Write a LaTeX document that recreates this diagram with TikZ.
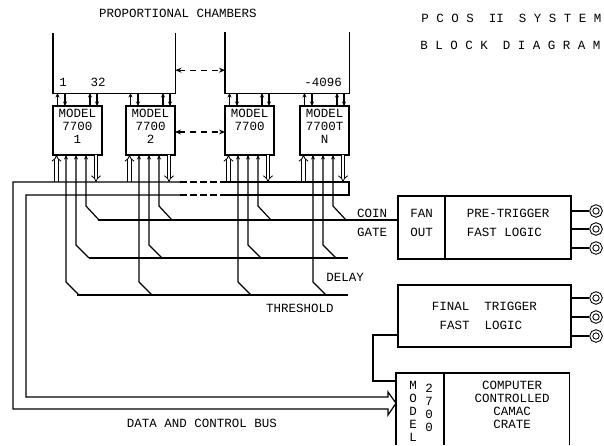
\documentclass[tikz,border=0pt]{standalone}
\usepackage{fontspec}
\setmainfont{Liberation Mono}
\usetikzlibrary{arrows.meta,calc}
\tikzset{
  wire/.style={line width=1.2pt},
  sig/.style={wire,-{Stealth[length=4.5pt,width=4pt]}},
  sigboth/.style={wire,dash pattern=on 6pt off 5pt,{Stealth[length=6pt,width=5pt]}-{Stealth[length=6pt,width=5pt]}},
  hollow/.style={line width=.8pt,double,double distance=2.6pt,-{Implies}},
  modbox/.style={draw,line width=1.2pt,outer sep=0pt,inner sep=0pt,anchor=north west,minimum width=49pt,minimum height=49pt,align=center},
  blockbox/.style={draw,line width=1.2pt,outer sep=0pt,inner sep=0pt,align=center},
  jack/.style={circle,draw,line width=1pt,double,double distance=1.8pt,inner sep=0pt,minimum size=9.5pt,outer sep=2pt},
  lab/.style={inner sep=0pt}
}
\begin{document}
\begin{tikzpicture}[x=1pt,y=-1pt,font=\fontsize{12.5}{13}\selectfont]
  \useasboundingbox (0,0) rectangle (604,445);
  % headings
  \node[lab] (chamtitle) at (178,13) {PROPORTIONAL CHAMBERS};
  \node[lab,anchor=west] (title1) at (421.2,18) {P~C~O~S~~II~~S~Y~S~T~E~M};
  \node[lab,anchor=west] (title2) at (420.2,45) {B~L~O~C~K~~D~I~A~G~R~A~M};
  % chambers, open at the top
  \node[lab,anchor=north west,minimum width=122pt,minimum height=60pt] (cham1) at (53,33) {};
  \node[lab,anchor=north west,minimum width=124pt,minimum height=61pt] (cham2) at (225,32) {};
  \draw[wire] (cham1.north west) |- (cham1.south east) -- (cham1.north east);
  \draw[wire] (cham2.north west) |- (cham2.south east) -- (cham2.north east);
  \node[lab] (ch1) at (63,82) {1};
  \node[lab] (ch32) at (98,82) {32};
  \node[lab] (ch4096) at (323,82) {-4096};
  % model 7700 units
  \foreach \n/\x/\lab in {1/53/{MODEL\\7700\\1\\[-5pt]~}, 2/126/{MODEL\\7700\\2\\[-5pt]~},
      3/225/{MODEL\\7700\\~\\[-5pt]~}, 4/300/{MODEL\\7700T\\N\\[-5pt]~}}
    \node[modbox] (mod\n) at (\x,106) {\lab};
  \draw[sigboth] ($(cham1.east)+(0,7)$) -- ($(cham2.west)+(0,7.5)$);
  \draw[sigboth] ($(mod2.east)+(0,1.5)$) -- ($(mod3.west)+(0,1.5)$);
  \foreach \n in {1,...,4}{
    % chamber side
    \foreach \x in {4.5,37}
      \draw[sig] ($(mod\n.north west)+(\x,0)$) -- ($(mod\n.north west)+(\x,-13)$);
    \foreach \x in {12,44}
      \draw[sig] ($(mod\n.north west)+(\x,-13)$) -- ($(mod\n.north west)+(\x,0)$);
    % bus side
    \draw[hollow] ($(mod\n.south west)+(3.5,27)$) -- ($(mod\n.south west)+(3.5,0)$);
    \draw[hollow] ($(mod\n.south west)+(43,0)$) -- ($(mod\n.south west)+(43,27)$);
    % coin, delay and threshold drops
    \foreach \off/\ybend/\yend in {33/51/65, 23/90/103, 13/127/140}
      \draw[sig] ($(mod\n.south west)+(\off+13,\yend)$) -- ($(mod\n.south west)+(\off,\ybend)$) -- ($(mod\n.south west)+(\off,0)$);
  }
  % fast logic
  \node[blockbox,anchor=north west,minimum width=47pt,minimum height=63pt] (fan) at (398,196) {FAN\\[6pt]OUT\\[-3pt]~};
  \node[blockbox,anchor=west,minimum width=126pt,minimum height=63pt,align=left] (pretrig) at (fan.east) {PRE-TRIGGER\\[6pt]FAST LOGIC\\[-3pt]~};
  \node[blockbox,anchor=north west,minimum width=173pt,minimum height=62pt] (final) at (398,285) {FINAL~~TRIGGER~\\[6pt]FAST~~LOGIC~~};
  \foreach \n/\y in {1/211,2/229,3/248}{
    \node[jack] (pre\n) at (596,\y) {};
    \draw[wire] (pre\n) -- (pre\n -| pretrig.east);
  }
  \foreach \n/\y in {1/298,2/317,3/336}{
    \node[jack] (fin\n) at (596,\y) {};
    \draw[wire] (fin\n) -- (fin\n -| final.east);
  }
  % horizontal signal lines
  \coordinate (coinstart) at (98,220);
  \coordinate (delaystart) at (89,258);
  \coordinate (delayend) at (348,258);
  \coordinate (threshstart) at (77,295);
  \coordinate (threshend) at (348,295);
  \draw[wire] (coinstart) -- (coinstart -| fan.west);
  \draw[wire] (delaystart) -- (delayend);
  \draw[wire] (threshstart) -- (threshend);
  \node[lab] (coinlab) at (372,213) {COIN};
  \node[lab] (gatelab) at (372,232) {GATE};
  \node[lab] (delaylab) at (345,277) {DELAY};
  \node[lab] (threshlab) at (300,308) {THRESHOLD};
  % camac crate, runs off the bottom
  \node[lab,anchor=north west,minimum width=173pt,minimum height=72pt] (crate) at (396,373) {};
  \draw[wire] (crate.south west) |- (crate.north east) -- (crate.south east);
  \coordinate (cratediv) at (444,373);
  \draw[wire] (cratediv) -- (cratediv |- crate.south);
  \node[lab,align=center] (modelv) at (413,411.5) {M\\O\\D\\E\\L};
  \node[lab,align=center] (modelnum) at (429,408) {2\\7\\0\\0};
  \node[lab,align=center] (cratelab) at (512,405) {COMPUTER\\CONTROLLED\\CAMAC\\CRATE};
  \coordinate (loopa) at (373,335);
  \coordinate (loopb) at (373,381);
  \draw[wire] (loopa -| final.west) -- (loopa) -- (loopb) -- (loopb -| crate.west);
  % data and control bus
  \coordinate (busa) at (349,182);
  \coordinate (busb) at (349,195);
  \coordinate (busc) at (13,182);
  \coordinate (busd) at (26,195);
  \coordinate (buse) at (13,409);
  \coordinate (busf) at (26,397);
  \coordinate (headt) at (388,397);
  \coordinate (headu) at (388,392);
  \coordinate (headv) at (388,415);
  \coordinate (headw) at (388,409);
  \coordinate (gapl) at (180,182);
  \coordinate (gapr) at (225,182);
  \coordinate (gapm) at (180,195);
  \coordinate (gapn) at (225,195);
  \draw[wire] (gapl) -- (busc) -- (buse) -- (headw) -- (headv) -- ($(crate.west)+(0,-6)$) -- (headu) -- (headt) -- (busf) -- (busd) -- (gapm);
  \draw[wire,dash pattern=on 7pt off 3pt] (gapl) -- (gapr);
  \draw[wire,dash pattern=on 7pt off 3pt] (gapm) -- (gapn);
  \draw[wire] (gapr) -- (busa) -- (busb) -- (gapn);
  \node[lab] (buslab) at (202,423) {DATA AND CONTROL BUS};
\end{tikzpicture}
\end{document}
